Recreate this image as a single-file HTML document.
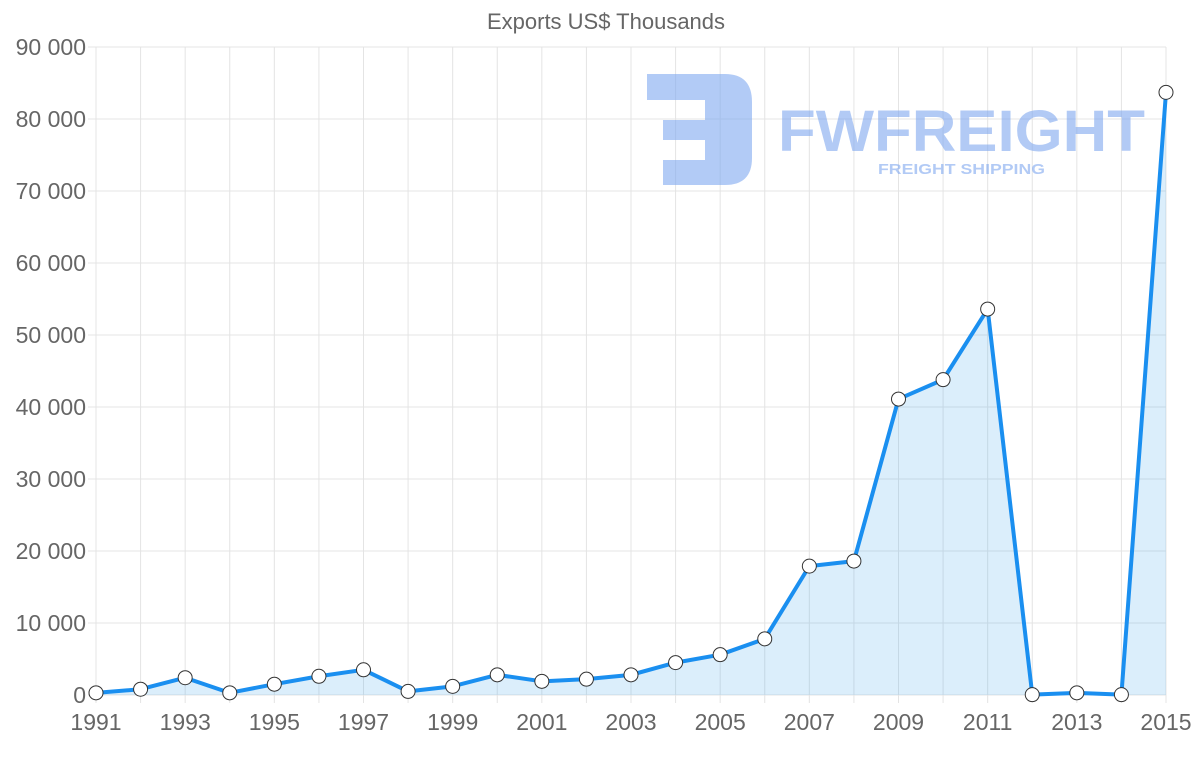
<!DOCTYPE html>
<html><head><meta charset="utf-8"><style>
body{margin:0;background:#fff;font-family:"Liberation Sans",sans-serif}
svg text{font-family:"Liberation Sans",sans-serif}
</style></head><body>
<svg id="chart" width="1200" height="763" viewBox="0 0 1200 763">
<text x="606" y="29" font-size="22" fill="#666" text-anchor="middle">Exports US$ Thousands</text>
<g id="grid"></g>
<g id="logo" opacity="0.6">
<path d="M647 74 H725 Q752 74 752 102 V158 Q752 185 725 185 H663 V160 H705 V140 H663 V120 H705 V100 H647 Z" fill="#7fa8f0"/>
<text x="778" y="151" font-size="58" font-weight="bold" fill="#7fa8f0" textLength="367" lengthAdjust="spacingAndGlyphs">FWFREIGHT</text>
<text x="878" y="174" font-size="15" font-weight="bold" fill="#7fa8f0" textLength="167" lengthAdjust="spacingAndGlyphs" font-family="Liberation Serif">FREIGHT SHIPPING</text>
</g>
<g id="series"></g>
<g id="axes"></g>
</svg>
<script>
const years=[1991,1992,1993,1994,1995,1996,1997,1998,1999,2000,2001,2002,2003,2004,2005,2006,2007,2008,2009,2010,2011,2012,2013,2014,2015];
const exportsValues=[300,800,2400,300,1500,2600,3500,500,1200,2800,1900,2200,2800,4500,5600,7800,17900,18600,41100,43800,53600,50,300,50,83700];
const yTicks=[0,10000,20000,30000,40000,50000,60000,70000,80000,90000];
const yTickLabels=["0","10 000","20 000","30 000","40 000","50 000","60 000","70 000","80 000","90 000"];
const ns="http://www.w3.org/2000/svg";
const X0=96,X1=1166,Y0=695,Y1=47;
const x=i=>X0+(X1-X0)*i/(years.length-1);
const y=v=>Y0-(Y0-Y1)*v/90000;
function mk(t,a,p){const e=document.createElementNS(ns,t);for(const k in a)e.setAttribute(k,a[k]);p.appendChild(e);return e;}
const grid=document.getElementById('grid'),axes=document.getElementById('axes'),ser=document.getElementById('series');
yTicks.forEach((v,i)=>{
 const l=mk('line',{x1:X0-8,x2:X1,y1:y(v),y2:y(v),stroke:'#e4e4e4','stroke-width':1},grid);
 
 
 const t=mk('text',{x:86,y:y(v)+8,'font-size':23,fill:'#666','text-anchor':'end'},axes);
 t.textContent=yTickLabels[i];
 
 
});
years.forEach((yr,i)=>{
 const l=mk('line',{x1:x(i),x2:x(i),y1:Y1,y2:Y0+8,stroke:'#e4e4e4','stroke-width':1},grid);
 
 
 if(i%2===0){const t=mk('text',{x:x(i),y:730,'font-size':23,fill:'#666','text-anchor':'middle'},axes);
 t.textContent=yr;
 
 }
});
let d='';exportsValues.forEach((v,i)=>{d+=(i?'L':'M')+x(i)+' '+y(v)+' ';});
const area=mk('path',{d:d+'L'+x(years.length-1)+' '+Y0+' L'+X0+' '+Y0+' Z',fill:'rgba(54,162,235,0.18)'},ser);


const line=mk('path',{d:d,fill:'none',stroke:'#1a8ff0','stroke-width':4,'stroke-linejoin':'round'},ser);


exportsValues.forEach((v,i)=>{
 const c=mk('circle',{cx:x(i),cy:y(v),r:7,fill:'#fff',stroke:'#333','stroke-width':1},ser);
 
 
});
</script>
</body></html>
